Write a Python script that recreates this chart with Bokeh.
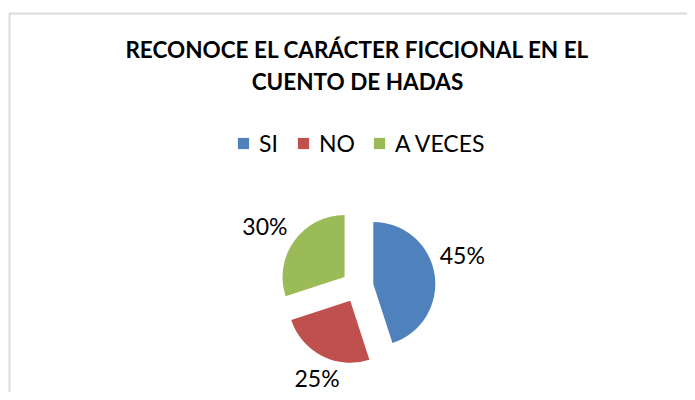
import math
from bokeh.plotting import figure
from bokeh.models import ColumnDataSource, Range1d, BoxAnnotation
from bokeh.core.properties import value
from bokeh.embed import file_html
from bokeh.resources import INLINE

categories = ["SI", "NO", "A VECES"]
values = [45, 25, 30]
colors = ["#4F81BD", "#C0504D", "#9BBB59"]
title_lines = ["RECONOCE EL CARÁCTER FICCIONAL EN EL", "CUENTO DE HADAS"]

W, H = 687, 392
CX, CY = 357, 106          # pie centre (pixel-like data units)
R = 62                     # radius
EXPLODE = 16               # explosion distance
LABEL_RX, LABEL_RY = 108, 105
LABEL_ROT = 5              # degrees
LABEL_LIFT = 6
FONT = "Lato"

total = sum(values)
xs, ys, starts, ends, lx, ly, texts = [], [], [], [], [], [], []
cum = 0
for v in values:
    a1 = math.radians(90 - cum / total * 360)
    a2 = math.radians(90 - (cum + v) / total * 360)
    mid = (a1 + a2) / 2
    xs.append(CX + EXPLODE * math.cos(mid))
    ys.append(CY + EXPLODE * math.sin(mid))
    starts.append(a2)
    ends.append(a1)
    la = mid + math.radians(LABEL_ROT)
    lx.append(CX + LABEL_RX * math.cos(la))
    ly.append(CY + LABEL_RY * math.sin(la) + LABEL_LIFT)
    texts.append(f"{round(v / total * 100)}%")
    cum += v

src = ColumnDataSource(dict(x=xs, y=ys, start=starts, end=ends, color=colors,
                            cat=categories, lx=lx, ly=ly, txt=texts))
tsrc = ColumnDataSource(dict(x=[357] * len(title_lines),
                             y=[343 - 32 * i for i in range(len(title_lines))],
                             t=title_lines))

p = figure(width=W, height=H, output_backend="svg", toolbar_location=None,
           x_range=Range1d(0, W), y_range=Range1d(0, H), min_border=0,
           background_fill_color="white", border_fill_color="white")
p.axis.visible = False
p.grid.visible = False
p.outline_line_color = None

# chart frame (right/bottom edges lie outside the window)
p.add_layout(BoxAnnotation(left=9, right=W + 50, bottom=-50, top=H - 13,
                           fill_alpha=0, line_color="#868686", line_width=2))

p.wedge(x="x", y="y", radius=R, start_angle="start", end_angle="end",
        fill_color="color", line_color=None, source=src, legend_field="cat")

p.text(x="lx", y="ly", text="txt", source=src, text_font=value(FONT),
       text_font_size="23px", text_align="center", text_baseline="middle",
       text_color="black")

p.text(x="x", y="y", text="t", source=tsrc, text_font=value(FONT),
       text_font_size="22.5px", text_font_style="bold", text_align="center",
       text_baseline="middle", text_color="black")

lg = p.legend[0]
lg.orientation = "horizontal"
lg.location = (236, 235)
lg.glyph_width = 14
lg.glyph_height = 14
lg.label_standoff = 9
lg.label_width = 20
lg.spacing = 17
lg.padding = 0
lg.margin = 0
lg.border_line_color = None
lg.background_fill_alpha = 0
lg.label_text_font = FONT
lg.label_text_font_size = "23px"
lg.label_text_color = "black"

open("out.html", "w").write(file_html(p, INLINE))
